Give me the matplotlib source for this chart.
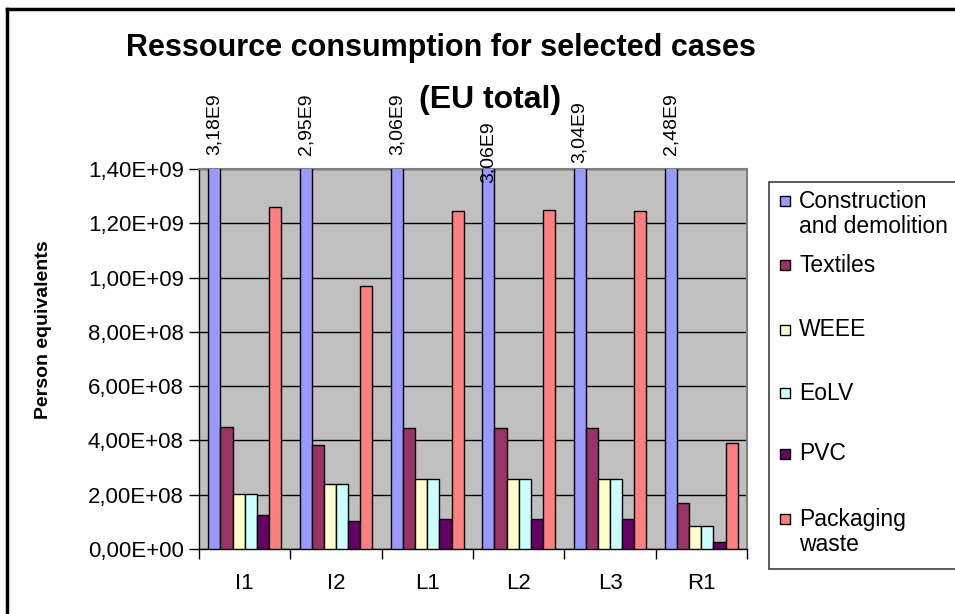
import numpy as np
import matplotlib
matplotlib.use("Agg")
import matplotlib.pyplot as plt
from matplotlib.ticker import FuncFormatter, FixedLocator
from matplotlib.patches import Rectangle
from matplotlib.lines import Line2D

plt.rcParams['font.family'] = ['Liberation Sans', 'DejaVu Sans']

# Cases and resource consumption per waste stream (person equivalents)
cases = ["I1", "I2", "L1", "L2", "L3", "R1"]
streams = ["Construction\nand demolition", "Textiles", "WEEE", "EoLV", "PVC",
           "Packaging\nwaste"]
construction = [3.18e9, 2.95e9, 3.06e9, 3.06e9, 3.04e9, 2.48e9]
textiles = [4.50e8, 3.85e8, 4.45e8, 4.45e8, 4.45e8, 1.70e8]
weee = [2.03e8, 2.40e8, 2.58e8, 2.58e8, 2.58e8, 0.85e8]
eolv = [2.03e8, 2.40e8, 2.58e8, 2.58e8, 2.58e8, 0.85e8]
pvc = [1.25e8, 1.04e8, 1.10e8, 1.10e8, 1.10e8, 0.27e8]
packaging = [1.26e9, 0.97e9, 1.245e9, 1.25e9, 1.245e9, 3.90e8]

colors = ["#9999FF", "#993366", "#FFFFCC", "#CCFFFF", "#660066", "#FF8080"]

series = [construction, textiles, weee, eolv, pvc, packaging]
# label offsets (points) for the clipped construction bars
label_offsets = [10, 10, 10, -10, 4, 10]

fig = plt.figure(figsize=(9.55, 6.14), dpi=100)
ax = fig.add_axes([199 / 955, 65 / 614, 548 / 955, 380 / 614])
ax.set_facecolor("#C0C0C0")

x = np.arange(len(cases))
w = 0.133
for i, (vals, col) in enumerate(zip(series, colors)):
    ax.bar(x + (i - 2.5) * w, vals, width=w, color=col, edgecolor="black",
           linewidth=1, zorder=3)

ymax = 1.4e9
ax.set_ylim(0, ymax)
ax.set_xlim(-0.5, len(cases) - 0.5)

# values of the bars that run off the top of the axis
for xi, v, off in zip(x, construction, label_offsets):
    txt = f"{v / 1e9:.2f}E9".replace(".", ",")
    ax.annotate(txt, xy=(xi - 2.5 * w, ymax), xytext=(0, off),
                textcoords="offset points", rotation=90, ha="center",
                va="bottom", fontsize=14, annotation_clip=False, zorder=5)

ax.yaxis.set_major_locator(FixedLocator(np.arange(0, ymax + 1, 2e8)))
ax.yaxis.set_major_formatter(
    FuncFormatter(lambda v, p: f"{v:.2E}".replace(".", ",")))
ax.grid(axis="y", color="black", linewidth=1, zorder=1)
ax.tick_params(axis="y", direction="out", length=7, width=1, labelsize=16,
               pad=4)

ax.set_xticks(np.arange(-0.5, len(cases), 1.0))
ax.set_xticklabels([])
ax.set_xticks(x, minor=True)
ax.set_xticklabels(cases, minor=True, fontsize=16)
ax.tick_params(axis="x", which="major", direction="out", length=7, width=1)
ax.tick_params(axis="x", which="minor", length=0, pad=17)

for s in ["top", "right"]:
    ax.spines[s].set_color("#808080")
    ax.spines[s].set_linewidth(1.5)
for s in ["left", "bottom"]:
    ax.spines[s].set_color("black")
    ax.spines[s].set_linewidth(1)

fig.text(43 / 955, 1 - 330 / 614, "Person equivalents", rotation=90,
         ha="center", va="center", fontsize=14, fontweight="bold")

fig.text(441 / 955, 1 - 48 / 614, "Ressource consumption for selected cases",
         ha="center", va="center", fontsize=22, fontweight="bold")
fig.text(490 / 955, 1 - 100 / 614, "(EU total)",
         ha="center", va="center", fontsize=23, fontweight="bold")

# legend box drawn in figure pixels
def fx(px):
    return px / 955

def fy(py):
    return 1 - py / 614

fig.patches.append(Rectangle((fx(769), fy(569)), fx(200), 387 / 614,
                             transform=fig.transFigure, facecolor="white",
                             edgecolor="#404040", linewidth=1.2))
entry_y = [214, 265, 330, 393, 454, 532]
for lab, col, ey in zip(streams, colors, entry_y):
    n_lines = lab.count("\n") + 1
    sq_y = ey - (n_lines - 1) * 13
    fig.patches.append(Rectangle((fx(780), fy(sq_y + 5)), fx(10), 10 / 614,
                                 transform=fig.transFigure, facecolor=col,
                                 edgecolor="black", linewidth=1))
    fig.text(fx(799), fy(ey), lab, ha="left", va="center", fontsize=16.5,
             linespacing=1.15)

# chart frame
fig.add_artist(Line2D([fx(7), fx(7)], [fy(9), 0], color="black", lw=2.5,
                      transform=fig.transFigure))
fig.add_artist(Line2D([fx(7), 1], [fy(9), fy(9)], color="black", lw=2.5,
                      transform=fig.transFigure))

fig.savefig("out.png", dpi=100)
